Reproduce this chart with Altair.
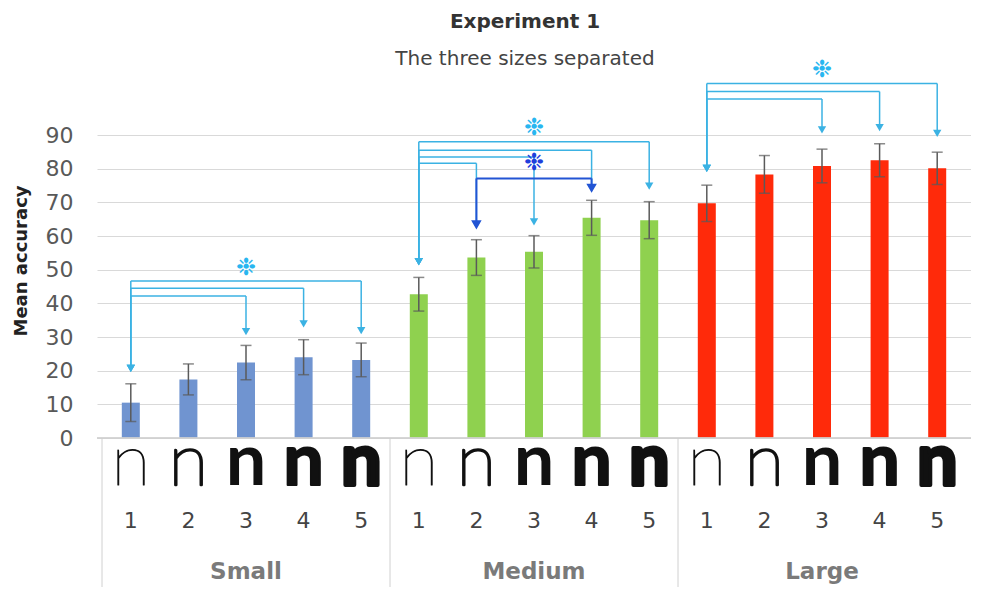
import altair as alt
import pandas as pd

# ---------------- data ----------------
groups = ["Small", "Medium", "Large"]
levels = ["1", "2", "3", "4", "5"]
small_mean = [10.5, 17.4, 22.4, 24.0, 23.2]
medium_mean = [42.7, 53.6, 55.3, 65.4, 64.7]
large_mean = [69.7, 78.3, 80.8, 82.5, 80.1]
small_err = [5.6, 4.6, 5.1, 5.2, 5.0]
medium_err = [5.0, 5.3, 4.8, 5.2, 5.5]
large_err = [5.4, 5.6, 5.0, 4.9, 4.8]
bar_colors = ["#7094d0", "#8fd14f", "#ff2a0a"]
y_ticks = [0, 10, 20, 30, 40, 50, 60, 70, 80, 90]

# glyph style for the five weights: font weight + extra outline width
glyph_font_weight = [200, 200, 700, 700, 700]
glyph_outline = [1.0, 2.6, 0.0, 2.0, 4.0]

# significance brackets (bar index 0-14)
brk_from = [0, 0, 0, 5, 5, 5, 5, 10, 10, 10, 6]
brk_to = [2, 3, 4, 6, 7, 8, 9, 12, 13, 14, 8]
brk_level = [42.2, 44.5, 46.6, 81.6, 83.5, 85.5, 88.0, 100.7, 102.9, 105.3, 77.1]
brk_src_tip = [20.7, 20.7, 20.7, 52.4, 52.4, 52.4, 52.4, 80.1, 80.1, 80.1, 63.3]
brk_dst_tip = [31.6, 33.9, 31.9, 63.3, 64.2, 74.2, 74.8, 91.5, 92.2, 90.5, 74.2]
brk_kind = ["light"] * 10 + ["dark"]

star_x = [2, 7, 12, 7]
star_y = [50.5, 92.0, 109.3, 81.8]
star_kind = ["light", "light", "light", "dark"]

# ---------------- tables ----------------
means = [small_mean, medium_mean, large_mean]
errs = [small_err, medium_err, large_err]
rows = []
for gi, g in enumerate(groups):
    for k, lab in enumerate(levels):
        m = means[gi][k]
        e = errs[gi][k]
        rows.append({"idx": gi * 5 + k, "group": g, "level": lab, "k": k,
                     "mean": m, "lo": m - e, "hi": m + e})
bars = pd.DataFrame(rows)

seg_rows, arrow_rows = [], []
for f, t, lv, st, dt, kd in zip(brk_from, brk_to, brk_level, brk_src_tip, brk_dst_tip, brk_kind):
    seg_rows.append({"x": f, "x2": t, "y": lv, "y2": lv, "kind": kd})
    seg_rows.append({"x": f, "x2": f, "y": lv, "y2": st, "kind": kd})
    seg_rows.append({"x": t, "x2": t, "y": lv, "y2": dt, "kind": kd})
    arrow_rows.append({"x": f, "y": st, "kind": kd})
    arrow_rows.append({"x": t, "y": dt, "kind": kd})
segs = pd.DataFrame(seg_rows)
arrows = pd.DataFrame(arrow_rows)
stars = pd.DataFrame({"x": star_x, "y": star_y, "kind": star_kind, "t": ["\u2749"] * 4})

grp_df = pd.DataFrame({"group": groups,
                       "center": [bars[bars.group == g].idx.mean() for g in groups]})
div_df = pd.DataFrame({"pos": [bars[bars.group == g].idx.min() - 0.5 for g in groups]})

# ---------------- scales ----------------
W, H = 874, 303
xs = alt.Scale(domain=[-0.5, 14.5], nice=False, zero=False)
ys = alt.Scale(domain=[0, 90], nice=False)
y_axis = alt.Axis(values=y_ticks, grid=True, gridColor="#d9d9d9", gridWidth=1,
                  domain=False, ticks=False, labelFont="DejaVu Sans",
                  labelFontSize=22, labelColor="#595959", labelPadding=24,
                  labelOverlap=False, title=None)


def X(f):
    return alt.X(f, type="quantitative", scale=xs, axis=None)


def Y(f):
    return alt.Y(f, type="quantitative", scale=ys, axis=y_axis)


light_c, dark_c = "#3bb2e3", "#2254d4"

base = alt.Chart(bars)

bar_layer = base.mark_bar(size=18).encode(
    x=X("idx"), y=Y("mean"),
    color=alt.Color("group:N", scale=alt.Scale(domain=groups, range=bar_colors), legend=None),
)

err_rule = base.mark_rule(color="#5a5a5a", strokeWidth=1.5).encode(
    x=X("idx"), y=Y("lo"), y2="hi:Q")
err_cap_hi = base.mark_tick(color="#5a5a5a", orient="horizontal", size=11, thickness=1.5).encode(
    x=X("idx"), y=Y("hi"))
err_cap_lo = base.mark_tick(color="#5a5a5a", orient="horizontal", size=11, thickness=1.5).encode(
    x=X("idx"), y=Y("lo"))


def seg_layer(kind, width):
    return alt.Chart(segs).transform_filter(alt.datum.kind == kind).mark_rule(
        strokeWidth=width, color=light_c if kind == "light" else dark_c).encode(
        x=X("x"), x2="x2:Q", y=Y("y"), y2="y2:Q")


def arrow_layer(kind, size):
    return alt.Chart(arrows).transform_filter(alt.datum.kind == kind).mark_point(
        shape="triangle-down", filled=True, opacity=1, size=size,
        color=light_c if kind == "light" else dark_c).encode(
        x=X("x"), y=Y("y"))


def star_layer(kind, col):
    return alt.Chart(stars).transform_filter(alt.datum.kind == kind).mark_text(
        font="DejaVu Sans", fontSize=24, baseline="middle", color=col).encode(
        x=X("x"), y=Y("y"), text="t:N")


glyph_layers = [
    base.transform_filter(alt.datum.k == k).mark_text(
        font="Lato", fontSize=72, fontWeight=glyph_font_weight[k], color="#111111",
        stroke="#111111", strokeWidth=glyph_outline[k], strokeJoin="round",
        baseline="alphabetic").encode(
        x=X("idx"), y=alt.value(350), text=alt.value("n"))
    for k in range(len(levels))
]

num_layer = base.mark_text(font="DejaVu Sans", fontSize=22, color="#444444",
                           baseline="alphabetic").encode(
    x=X("idx"), y=alt.value(393), text="level:N")

grp_layer = alt.Chart(grp_df).mark_text(font="DejaVu Sans", fontSize=23, fontWeight="bold",
                                        color="#7a7a7a", baseline="alphabetic").encode(
    x=X("center"), y=alt.value(444), text="group:N")

div_layer = alt.Chart(div_df).mark_rule(color="#d0d0d0", strokeWidth=1).encode(
    x=X("pos"), y=alt.value(H), y2=alt.value(H + 160))

base_line = alt.Chart(div_df).mark_rule(color="#d0d0d0", strokeWidth=1).encode(
    x=alt.value(0), x2=alt.value(W), y=alt.value(H))

title_layer = alt.Chart(pd.DataFrame({"t": ["Experiment 1"]})).mark_text(
    font="DejaVu Sans", fontSize=20, fontWeight="bold", color="#333333",
    baseline="alphabetic").encode(x=alt.value(428), y=alt.value(-107), text="t:N")
subtitle_layer = alt.Chart(pd.DataFrame({"t": ["The three sizes separated"]})).mark_text(
    font="DejaVu Sans", fontSize=20, color="#444444",
    baseline="alphabetic").encode(x=alt.value(428), y=alt.value(-70), text="t:N")
ytitle_layer = alt.Chart(pd.DataFrame({"t": ["Mean accuracy"]})).mark_text(
    font="DejaVu Sans", fontSize=18, fontWeight="bold", color="#222222", angle=270,
    baseline="middle").encode(x=alt.value(-75), y=alt.value(126), text="t:N")

chart = alt.layer(
    bar_layer, err_rule, err_cap_hi, err_cap_lo,
    seg_layer("light", 1.5), arrow_layer("light", 70),
    seg_layer("dark", 2), arrow_layer("dark", 110),
    star_layer("light", "#29b6f0"), star_layer("dark", "#1f3fdc"),
    *glyph_layers, num_layer, grp_layer, div_layer, base_line,
    title_layer, subtitle_layer, ytitle_layer,
).properties(
    width=W, height=H,
    autosize=alt.AutoSizeParams(type="none"),
    padding={"left": 89, "top": 127, "right": 0, "bottom": 149},
).configure_view(stroke=None)

chart.save("out.html", embed_options={"renderer": "svg", "actions": False})
